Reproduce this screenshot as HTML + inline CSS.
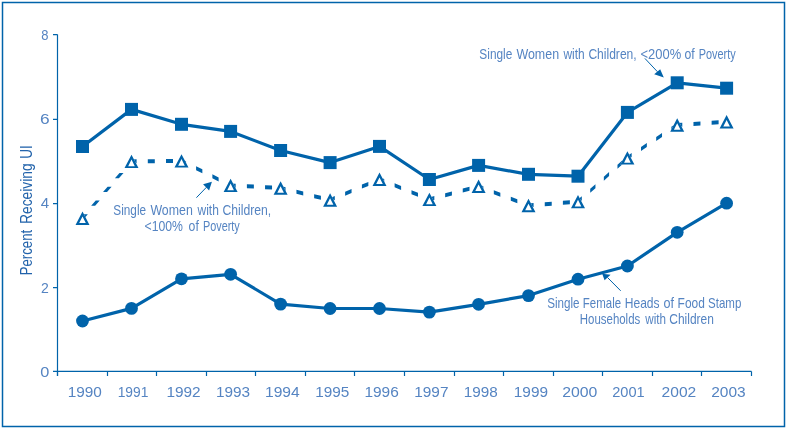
<!DOCTYPE html><html><head><meta charset="utf-8"><style>html,body{margin:0;padding:0;background:#fff;}svg{display:block;will-change:transform}text{font-family:"Liberation Sans",sans-serif;}</style></head><body>
<svg width="787" height="428" viewBox="0 0 787 428">
<rect x="2.5" y="2.5" width="782" height="424" fill="none" stroke="#0063aa" stroke-width="1.5"/>
<g stroke="#0063aa" stroke-width="1.2" fill="none">
<path d="M57.5,34.55 V376 M53,34.55 H57.5 M53,119.4 H57.5 M53,203.55 H57.5 M53,287.55 H57.5 M53,371.45 H751.5"/>
<path d="M57.50,371.45 V376"/>
<path d="M107.50,371.45 V376"/>
<path d="M156.50,371.45 V376"/>
<path d="M206.50,371.45 V376"/>
<path d="M255.50,371.45 V376"/>
<path d="M305.50,371.45 V376"/>
<path d="M354.50,371.45 V376"/>
<path d="M404.50,371.45 V376"/>
<path d="M454.50,371.45 V376"/>
<path d="M503.50,371.45 V376"/>
<path d="M553.50,371.45 V376"/>
<path d="M602.50,371.45 V376"/>
<path d="M652.50,371.45 V376"/>
<path d="M701.50,371.45 V376"/>
<path d="M751.50,371.45 V376"/>
</g>
<polyline points="82.50,146.50 131.50,109.40 181.50,124.30 230.60,131.40 280.60,150.50 330.10,162.60 379.50,146.40 429.40,179.50 478.60,165.40 528.50,174.30 578.00,176.20 627.40,112.40 677.20,82.80 726.60,88.20" fill="none" stroke="#0063aa" stroke-width="3.2" stroke-linejoin="round"/>
<polyline points="82.50,321.00 131.50,308.40 181.50,278.80 230.60,274.30 280.60,304.10 330.10,308.50 379.50,308.50 429.40,312.10 478.60,304.30 528.50,295.60 578.00,279.20 627.40,266.00 677.20,232.30 726.60,203.20" fill="none" stroke="#0063aa" stroke-width="3.2" stroke-linejoin="round"/>
<path d="M80.50,218.20L83.83,214.34L87.83,214.34L84.50,218.20ZM91.15,205.86L95.72,200.56L99.72,200.56L95.15,205.86ZM103.04,192.08L107.61,186.78L111.61,186.78L107.04,192.08ZM114.92,178.30L119.50,173.00L123.50,173.00L118.92,178.30ZM126.81,164.52L129.50,161.40L133.50,161.40L130.81,164.52ZM131.50,159.40L136.60,159.35L136.60,163.35L131.50,163.40ZM147.80,159.24L154.80,159.17L154.80,163.17L147.80,163.24ZM166.00,159.06L173.00,158.99L173.00,162.99L166.00,163.06ZM181.50,158.90L186.06,161.18L186.06,165.18L181.50,162.90ZM196.09,166.18L202.35,169.30L202.35,173.30L196.09,170.18ZM212.37,174.30L218.63,177.43L218.63,181.43L212.37,178.30ZM228.66,182.43L230.60,183.40L230.60,187.40L228.66,186.43ZM230.60,183.40L235.69,183.66L235.69,187.66L230.60,187.40ZM246.88,184.25L253.87,184.61L253.87,188.61L246.88,188.25ZM265.05,185.19L272.04,185.56L272.04,189.56L265.05,189.19ZM280.60,186.00L285.56,187.20L285.56,191.20L280.60,190.00ZM296.44,189.84L303.24,191.49L303.24,195.49L296.44,193.84ZM314.13,194.13L320.93,195.78L320.93,199.78L314.13,198.13ZM330.10,198.00L334.80,196.02L334.80,200.02L330.10,202.00ZM345.12,191.67L351.57,188.96L351.57,192.96L345.12,195.67ZM361.90,184.61L368.35,181.90L368.35,185.90L361.90,188.61ZM378.67,177.55L379.50,177.20L379.50,181.20L378.67,181.55ZM379.50,177.20L384.23,179.11L384.23,183.11L379.50,181.20ZM394.61,183.32L401.10,185.94L401.10,189.94L394.61,187.32ZM411.48,190.15L417.97,192.77L417.97,196.77L411.48,194.15ZM428.35,196.97L429.40,197.40L429.40,201.40L428.35,200.97ZM429.40,197.40L434.33,196.09L434.33,200.09L429.40,201.40ZM445.15,193.21L451.92,191.41L451.92,195.41L445.15,197.21ZM462.74,188.52L469.50,186.72L469.50,190.72L462.74,192.52ZM478.60,184.30L483.36,186.13L483.36,190.13L478.60,188.30ZM493.81,190.15L500.35,192.67L500.35,196.67L493.81,194.15ZM510.80,196.69L517.33,199.20L517.33,203.20L510.80,200.69ZM527.78,203.22L528.50,203.50L528.50,207.50L527.78,207.22ZM528.50,203.50L533.58,203.10L533.58,207.10L528.50,207.50ZM544.75,202.22L551.73,201.67L551.73,205.67L544.75,206.22ZM562.89,200.79L569.87,200.24L569.87,204.24L562.89,204.79ZM578.00,199.60L581.82,196.22L581.82,200.22L578.00,203.60ZM590.21,188.80L595.45,184.16L595.45,188.16L590.21,192.80ZM603.84,176.74L609.08,172.10L609.08,176.10L603.84,180.74ZM617.47,164.68L622.72,160.04L622.72,164.04L617.47,168.68ZM627.40,155.90L631.66,153.09L631.66,157.09L627.40,159.90ZM641.00,146.92L646.84,143.06L646.84,147.06L641.00,150.92ZM656.19,136.88L662.03,133.02L662.03,137.02L656.19,140.88ZM671.37,126.85L677.20,123.00L677.20,127.00L671.37,130.85ZM677.20,123.00L682.29,122.66L682.29,126.66L677.20,127.00ZM693.46,121.91L700.45,121.45L700.45,125.45L693.46,125.91ZM711.62,120.70L718.61,120.23L718.61,124.23L711.62,124.70Z" fill="#0063aa"/>
<rect x="76.00" y="140.00" width="13" height="13" fill="#0063aa"/>
<rect x="125.00" y="102.90" width="13" height="13" fill="#0063aa"/>
<rect x="175.00" y="117.80" width="13" height="13" fill="#0063aa"/>
<rect x="224.10" y="124.90" width="13" height="13" fill="#0063aa"/>
<rect x="274.10" y="144.00" width="13" height="13" fill="#0063aa"/>
<rect x="323.60" y="156.10" width="13" height="13" fill="#0063aa"/>
<rect x="373.00" y="139.90" width="13" height="13" fill="#0063aa"/>
<rect x="422.90" y="173.00" width="13" height="13" fill="#0063aa"/>
<rect x="472.10" y="158.90" width="13" height="13" fill="#0063aa"/>
<rect x="522.00" y="167.80" width="13" height="13" fill="#0063aa"/>
<rect x="571.50" y="169.70" width="13" height="13" fill="#0063aa"/>
<rect x="620.90" y="105.90" width="13" height="13" fill="#0063aa"/>
<rect x="670.70" y="76.30" width="13" height="13" fill="#0063aa"/>
<rect x="720.10" y="81.70" width="13" height="13" fill="#0063aa"/>
<circle cx="82.50" cy="321.00" r="6.4" fill="#0063aa"/>
<circle cx="131.50" cy="308.40" r="6.4" fill="#0063aa"/>
<circle cx="181.50" cy="278.80" r="6.4" fill="#0063aa"/>
<circle cx="230.60" cy="274.30" r="6.4" fill="#0063aa"/>
<circle cx="280.60" cy="304.10" r="6.4" fill="#0063aa"/>
<circle cx="330.10" cy="308.50" r="6.4" fill="#0063aa"/>
<circle cx="379.50" cy="308.50" r="6.4" fill="#0063aa"/>
<circle cx="429.40" cy="312.10" r="6.4" fill="#0063aa"/>
<circle cx="478.60" cy="304.30" r="6.4" fill="#0063aa"/>
<circle cx="528.50" cy="295.60" r="6.4" fill="#0063aa"/>
<circle cx="578.00" cy="279.20" r="6.4" fill="#0063aa"/>
<circle cx="627.40" cy="266.00" r="6.4" fill="#0063aa"/>
<circle cx="677.20" cy="232.30" r="6.4" fill="#0063aa"/>
<circle cx="726.60" cy="203.20" r="6.4" fill="#0063aa"/>
<path d="M75.50,224.90 L89.50,224.90 L82.50,211.50 Z" fill="#fff"/>
<path d="M75.50,224.90 L89.50,224.90 L82.50,211.50 Z M79.20,223.00 L82.50,216.40 L85.80,223.00 Z" fill="#0063aa" fill-rule="evenodd"/>
<path d="M124.50,168.10 L138.50,168.10 L131.50,154.70 Z" fill="#fff"/>
<path d="M124.50,168.10 L138.50,168.10 L131.50,154.70 Z M128.20,166.20 L131.50,159.60 L134.80,166.20 Z" fill="#0063aa" fill-rule="evenodd"/>
<path d="M174.50,167.60 L188.50,167.60 L181.50,154.20 Z" fill="#fff"/>
<path d="M174.50,167.60 L188.50,167.60 L181.50,154.20 Z M178.20,165.70 L181.50,159.10 L184.80,165.70 Z" fill="#0063aa" fill-rule="evenodd"/>
<path d="M223.60,192.10 L237.60,192.10 L230.60,178.70 Z" fill="#fff"/>
<path d="M223.60,192.10 L237.60,192.10 L230.60,178.70 Z M227.30,190.20 L230.60,183.60 L233.90,190.20 Z" fill="#0063aa" fill-rule="evenodd"/>
<path d="M273.60,194.70 L287.60,194.70 L280.60,181.30 Z" fill="#fff"/>
<path d="M273.60,194.70 L287.60,194.70 L280.60,181.30 Z M277.30,192.80 L280.60,186.20 L283.90,192.80 Z" fill="#0063aa" fill-rule="evenodd"/>
<path d="M323.10,206.70 L337.10,206.70 L330.10,193.30 Z" fill="#fff"/>
<path d="M323.10,206.70 L337.10,206.70 L330.10,193.30 Z M326.80,204.80 L330.10,198.20 L333.40,204.80 Z" fill="#0063aa" fill-rule="evenodd"/>
<path d="M372.50,185.90 L386.50,185.90 L379.50,172.50 Z" fill="#fff"/>
<path d="M372.50,185.90 L386.50,185.90 L379.50,172.50 Z M376.20,184.00 L379.50,177.40 L382.80,184.00 Z" fill="#0063aa" fill-rule="evenodd"/>
<path d="M422.40,206.10 L436.40,206.10 L429.40,192.70 Z" fill="#fff"/>
<path d="M422.40,206.10 L436.40,206.10 L429.40,192.70 Z M426.10,204.20 L429.40,197.60 L432.70,204.20 Z" fill="#0063aa" fill-rule="evenodd"/>
<path d="M471.60,193.00 L485.60,193.00 L478.60,179.60 Z" fill="#fff"/>
<path d="M471.60,193.00 L485.60,193.00 L478.60,179.60 Z M475.30,191.10 L478.60,184.50 L481.90,191.10 Z" fill="#0063aa" fill-rule="evenodd"/>
<path d="M521.50,212.20 L535.50,212.20 L528.50,198.80 Z" fill="#fff"/>
<path d="M521.50,212.20 L535.50,212.20 L528.50,198.80 Z M525.20,210.30 L528.50,203.70 L531.80,210.30 Z" fill="#0063aa" fill-rule="evenodd"/>
<path d="M571.00,208.30 L585.00,208.30 L578.00,194.90 Z" fill="#fff"/>
<path d="M571.00,208.30 L585.00,208.30 L578.00,194.90 Z M574.70,206.40 L578.00,199.80 L581.30,206.40 Z" fill="#0063aa" fill-rule="evenodd"/>
<path d="M620.40,164.60 L634.40,164.60 L627.40,151.20 Z" fill="#fff"/>
<path d="M620.40,164.60 L634.40,164.60 L627.40,151.20 Z M624.10,162.70 L627.40,156.10 L630.70,162.70 Z" fill="#0063aa" fill-rule="evenodd"/>
<path d="M670.20,131.70 L684.20,131.70 L677.20,118.30 Z" fill="#fff"/>
<path d="M670.20,131.70 L684.20,131.70 L677.20,118.30 Z M673.90,129.80 L677.20,123.20 L680.50,129.80 Z" fill="#0063aa" fill-rule="evenodd"/>
<path d="M719.60,128.40 L733.60,128.40 L726.60,115.00 Z" fill="#fff"/>
<path d="M719.60,128.40 L733.60,128.40 L726.60,115.00 Z M723.30,126.50 L726.60,119.90 L729.90,126.50 Z" fill="#0063aa" fill-rule="evenodd"/>
<text transform="translate(479.35,58.70) scale(0.8471,1)" font-size="14" fill="#5584c2">Single</text>
<text transform="translate(516.44,58.70) scale(0.8894,1)" font-size="14" fill="#5584c2">Women</text>
<text transform="translate(563.41,58.70) scale(0.8543,1)" font-size="14" fill="#5584c2">with</text>
<text transform="translate(588.38,58.70) scale(0.8621,1)" font-size="14" fill="#5584c2">Children,</text>
<text transform="translate(640.57,58.70) scale(0.9253,1)" font-size="14" fill="#5584c2">&lt;200%</text>
<text transform="translate(684.39,58.70) scale(0.8737,1)" font-size="14" fill="#5584c2">of</text>
<text transform="translate(698.70,58.70) scale(0.7800,1)" font-size="14" fill="#5584c2">Poverty</text>
<text transform="translate(113.36,215.00) scale(0.8417,1)" font-size="14" fill="#5584c2">Single</text>
<text transform="translate(150.44,215.00) scale(0.8830,1)" font-size="14" fill="#5584c2">Women</text>
<text transform="translate(197.51,215.00) scale(0.8585,1)" font-size="14" fill="#5584c2">with</text>
<text transform="translate(222.38,215.00) scale(0.8714,1)" font-size="14" fill="#5584c2">Children,</text>
<text transform="translate(144.50,230.50) scale(0.8739,1)" font-size="14" fill="#5584c2">&lt;100%</text>
<text transform="translate(188.59,230.50) scale(0.8737,1)" font-size="14" fill="#5584c2">of</text>
<text transform="translate(203.01,230.50) scale(0.7756,1)" font-size="14" fill="#5584c2">Poverty</text>
<text transform="translate(547.26,307.70) scale(0.8311,1)" font-size="14" fill="#5584c2">Single</text>
<text transform="translate(582.86,307.70) scale(0.8194,1)" font-size="14" fill="#5584c2">Female</text>
<text transform="translate(624.71,307.70) scale(0.8629,1)" font-size="14" fill="#5584c2">Heads</text>
<text transform="translate(663.47,307.70) scale(0.9007,1)" font-size="14" fill="#5584c2">of</text>
<text transform="translate(677.62,307.70) scale(0.8539,1)" font-size="14" fill="#5584c2">Food</text>
<text transform="translate(708.07,307.70) scale(0.8234,1)" font-size="14" fill="#5584c2">Stamp</text>
<text transform="translate(579.86,323.70) scale(0.8176,1)" font-size="14" fill="#5584c2">Households</text>
<text transform="translate(645.31,323.70) scale(0.8335,1)" font-size="14" fill="#5584c2">with</text>
<text transform="translate(669.29,323.70) scale(0.8572,1)" font-size="14" fill="#5584c2">Children</text>
<text transform="translate(67.73,397.00) scale(0.9911,1)" font-size="15.5" fill="#5584c2">1990</text>
<text transform="translate(117.65,397.00) scale(0.8914,1)" font-size="15.5" fill="#5584c2">1991</text>
<text transform="translate(166.43,397.00) scale(0.9933,1)" font-size="15.5" fill="#5584c2">1992</text>
<text transform="translate(216.03,397.00) scale(0.9904,1)" font-size="15.5" fill="#5584c2">1993</text>
<text transform="translate(265.01,397.00) scale(1.0078,1)" font-size="15.5" fill="#5584c2">1994</text>
<text transform="translate(315.13,397.00) scale(0.9895,1)" font-size="15.5" fill="#5584c2">1995</text>
<text transform="translate(364.43,397.00) scale(0.9966,1)" font-size="15.5" fill="#5584c2">1996</text>
<text transform="translate(414.23,397.00) scale(0.9933,1)" font-size="15.5" fill="#5584c2">1997</text>
<text transform="translate(463.84,397.00) scale(0.9869,1)" font-size="15.5" fill="#5584c2">1998</text>
<text transform="translate(513.83,397.00) scale(0.9918,1)" font-size="15.5" fill="#5584c2">1999</text>
<text transform="translate(562.21,397.00) scale(1.0214,1)" font-size="15.5" fill="#5584c2">2000</text>
<text transform="translate(612.17,397.00) scale(0.9412,1)" font-size="15.5" fill="#5584c2">2001</text>
<text transform="translate(661.62,397.00) scale(1.0054,1)" font-size="15.5" fill="#5584c2">2002</text>
<text transform="translate(711.23,397.00) scale(0.9995,1)" font-size="15.5" fill="#5584c2">2003</text>
<text transform="translate(40.36,376.80) scale(1.1656,1)" font-size="14" fill="#5584c2">0</text>
<text transform="translate(41.10,292.80) scale(1.0025,1)" font-size="14" fill="#5584c2">2</text>
<text transform="translate(40.65,207.80) scale(1.0771,1)" font-size="14" fill="#5584c2">4</text>
<text transform="translate(40.11,123.60) scale(1.2395,1)" font-size="14" fill="#5584c2">6</text>
<text transform="translate(41.34,39.70) scale(0.9271,1)" font-size="14" fill="#5584c2">8</text>
<g transform="translate(31.6,0) rotate(-90)">
<text transform="translate(-275.28,0.00) scale(0.7763,1)" font-size="17" fill="#2263ab">Percent</text>
<text transform="translate(-224.03,0.00) scale(0.8134,1)" font-size="17" fill="#2263ab">Receiving</text>
<text transform="translate(-158.74,0.00) scale(0.7928,1)" font-size="17" fill="#2263ab">UI</text>
</g>
<g stroke="#0063aa" stroke-width="1" fill="none"><path d="M644.9,58.4 L657.5,71.8"/><path d="M196.4,197.7 L206.5,187.2"/><path d="M620.7,290.8 L607.5,277.5"/></g>
<g fill="#0063aa"><path d="M654.2,74.3 L660.2,69.3 L663.8,77.4 Z"/><path d="M203.1,184.2 L211.9,181.8 L209.1,190.6 Z"/><path d="M602.2,273.8 L610.6,274.7 L604.6,280.3 Z"/></g>
</svg></body></html>
